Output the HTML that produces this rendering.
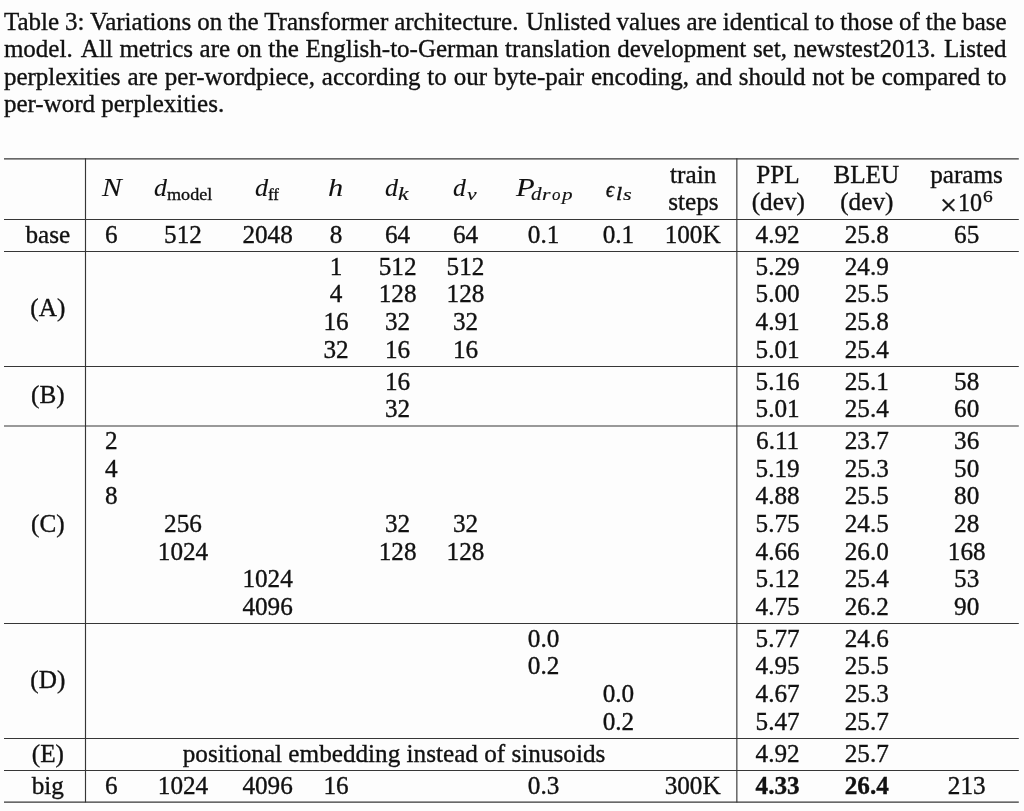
<!DOCTYPE html>
<html><head><meta charset="utf-8"><title>Table 3</title><style>
html,body{margin:0;padding:0;background:#fdfdfd;}
body{width:1024px;height:811px;position:relative;overflow:hidden;font-family:"Liberation Serif",serif;font-size:25.2px;color:#111;-webkit-text-stroke:0.35px #111;}
.cap{font-size:25.0px;}
#pg{position:absolute;left:0;top:0;width:1024px;height:811px;background:#fdfdfd;filter:blur(0.4px);}
.cap{position:absolute;left:3.9px;height:28px;line-height:28px;white-space:nowrap;}
.sp{display:inline-block;width:1.6px;}
.ln{position:absolute;left:0;top:0;}
.ln line{stroke:#363636;stroke-width:1.15;shape-rendering:geometricPrecision;}
.c{position:absolute;transform:translateX(-50%);white-space:nowrap;line-height:28px;height:28px;}
.c.b{font-weight:bold;}
.g{position:absolute;white-space:nowrap;line-height:60px;height:60px;}
</style></head><body><div id=pg>
<div class="cap" style="top:7.90px;word-spacing:-0.315px">Table 3: Variations on the Transformer architecture. <span class="sp"></span>Unlisted values are identical to those of the base</div>
<div class="cap" style="top:35.20px;word-spacing:0.352px">model. <span class="sp"></span>All metrics are on the English-to-German translation development set, newstest2013. <span class="sp"></span>Listed</div>
<div class="cap" style="top:62.60px;word-spacing:0.648px">perplexities are per-wordpiece, according to our byte-pair encoding, and should not be compared to</div>
<div class="cap" style="top:89.90px;word-spacing:0.000px">per-word perplexities.</div>
<svg class="ln" width="1024" height="811" viewBox="0 0 1024 811"><line x1="4.0" x2="1018.8" y1="158.8" y2="158.8"/><line x1="4.0" x2="1018.8" y1="219.5" y2="219.5"/><line x1="4.0" x2="1018.8" y1="251.45" y2="251.45"/><line x1="4.0" x2="1018.8" y1="366.45" y2="366.45"/><line x1="4.0" x2="1018.8" y1="426.0" y2="426.0"/><line x1="4.0" x2="1018.8" y1="623.5" y2="623.5"/><line x1="4.0" x2="1018.8" y1="738.45" y2="738.45"/><line x1="4.0" x2="1018.8" y1="770.45" y2="770.45"/><line x1="4.0" x2="1018.8" y1="802.05" y2="802.05"/><line x1="85.5" x2="85.5" y1="158.23" y2="802.62"/><line x1="736.85" x2="736.85" y1="158.23" y2="802.62"/></svg>
<div class="g" style="left:101.50px;top:158.00px;transform-origin:0 37px;transform:scale(1.186,0.977);font-style:italic;font-size:25px;-webkit-text-stroke:0.08px #111">N</div>
<div class="g" style="left:153.62px;top:158.00px;transform-origin:0 37px;transform:scale(1.036,1.000);font-style:italic;font-size:25px;-webkit-text-stroke:0.08px #111">d</div>
<div class="g" style="left:166.51px;top:163.60px;transform-origin:0 36px;transform:scale(1.035,1.000);font-size:17.5px">model</div>
<div class="g" style="left:255.01px;top:158.00px;transform-origin:0 37px;transform:scale(1.053,1.000);font-style:italic;font-size:25px;-webkit-text-stroke:0.08px #111">d</div>
<div class="g" style="left:268.02px;top:163.60px;transform-origin:0 36px;transform:scale(0.966,1.000);font-size:17.5px">ff</div>
<div class="g" style="left:328.24px;top:158.00px;transform-origin:0 37px;transform:scale(1.214,1.000);font-style:italic;font-size:25px;-webkit-text-stroke:0.08px #111">h</div>
<div class="g" style="left:384.72px;top:158.00px;transform-origin:0 37px;transform:scale(1.044,1.000);font-style:italic;font-size:25px;-webkit-text-stroke:0.08px #111">d</div>
<div class="g" style="left:397.72px;top:163.80px;transform-origin:0 36px;transform:scale(1.351,1.037);font-style:italic;font-size:17.5px;-webkit-text-stroke:0.15px #111">k</div>
<div class="g" style="left:453.03px;top:158.00px;transform-origin:0 37px;transform:scale(1.027,1.000);font-style:italic;font-size:25px;-webkit-text-stroke:0.08px #111">d</div>
<div class="g" style="left:466.55px;top:163.80px;transform-origin:0 36px;transform:scale(1.239,1.000);font-style:italic;font-size:17.5px;-webkit-text-stroke:0.15px #111">v</div>
<div class="g" style="left:515.95px;top:158.00px;transform-origin:0 37px;transform:scale(1.227,0.989);font-style:italic;font-size:25px;-webkit-text-stroke:0.08px #111">P</div>
<div class="g" style="left:531.40px;top:163.80px;transform-origin:0 36px;transform:scale(1.206,1.037);font-style:italic;font-size:17.5px;-webkit-text-stroke:0.15px #111">d</div>
<div class="g" style="left:542.42px;top:163.80px;transform-origin:0 36px;transform:scale(1.248,1.000);font-style:italic;font-size:17.5px;-webkit-text-stroke:0.15px #111">r</div>
<div class="g" style="left:551.92px;top:163.80px;transform-origin:0 36px;transform:scale(0.968,1.000);font-style:italic;font-size:17.5px;-webkit-text-stroke:0.15px #111">o</div>
<div class="g" style="left:562.26px;top:163.80px;transform-origin:0 36px;transform:scale(1.205,1.000);font-style:italic;font-size:17.5px;-webkit-text-stroke:0.15px #111">p</div>
<div class="g" style="left:606.10px;top:159.00px;transform-origin:0 37px;transform:scale(0.791,0.917);font-style:italic;font-size:25px;-webkit-text-stroke:0.55px #111">ϵ</div>
<div class="g" style="left:615.64px;top:163.80px;transform-origin:0 36px;transform:scale(1.257,1.113);font-style:italic;font-size:17.5px">l</div>
<div class="g" style="left:622.84px;top:163.80px;transform-origin:0 36px;transform:scale(1.280,1.000);font-style:italic;font-size:17.5px;-webkit-text-stroke:0.15px #111">s</div>
<div class="c " style="left:693.20px;top:161.00px">train</div>
<div class="c " style="left:693.40px;top:188.00px">steps</div>
<div class="c " style="left:778.00px;top:161.00px">PPL</div>
<div class="c " style="left:778.30px;top:188.00px">(dev)</div>
<div class="c " style="left:866.30px;top:161.00px">BLEU</div>
<div class="c " style="left:866.80px;top:188.00px">(dev)</div>
<div class="c " style="left:966.50px;top:161.00px">params</div>
<div class="g" style="left:940.39px;top:176.80px;transform-origin:0 37px;transform:scale(1.205,1.175);font-size:25px">×</div>
<div class="g" style="left:957.74px;top:172.80px;transform-origin:0 37px;transform:scale(0.959,1.000);font-size:25.2px">10</div>
<div class="g" style="left:983.47px;top:166.30px;transform-origin:0 36px;transform:scale(1.107,0.989);font-size:17.5px">6</div>
<div class="c " style="left:47.85px;top:221.00px">base</div>
<div class="c " style="left:111.30px;top:221.00px">6</div>
<div class="c " style="left:183.00px;top:221.00px">512</div>
<div class="c " style="left:267.60px;top:221.00px">2048</div>
<div class="c " style="left:336.00px;top:221.00px">8</div>
<div class="c " style="left:397.60px;top:221.00px">64</div>
<div class="c " style="left:465.50px;top:221.00px">64</div>
<div class="c " style="left:543.60px;top:221.00px">0.1</div>
<div class="c " style="left:618.45px;top:221.00px">0.1</div>
<div class="c " style="left:692.65px;top:221.00px">100K</div>
<div class="c " style="left:777.65px;top:221.00px">4.92</div>
<div class="c " style="left:866.80px;top:221.00px">25.8</div>
<div class="c " style="left:966.70px;top:221.00px">65</div>
<div class="c " style="left:47.85px;top:294.00px">(A)</div>
<div class="c " style="left:336.00px;top:253.00px">1</div>
<div class="c " style="left:397.60px;top:253.00px">512</div>
<div class="c " style="left:465.50px;top:253.00px">512</div>
<div class="c " style="left:777.65px;top:253.00px">5.29</div>
<div class="c " style="left:866.80px;top:253.00px">24.9</div>
<div class="c " style="left:336.00px;top:280.00px">4</div>
<div class="c " style="left:397.60px;top:280.00px">128</div>
<div class="c " style="left:465.50px;top:280.00px">128</div>
<div class="c " style="left:777.65px;top:280.00px">5.00</div>
<div class="c " style="left:866.80px;top:280.00px">25.5</div>
<div class="c " style="left:336.00px;top:308.00px">16</div>
<div class="c " style="left:397.60px;top:308.00px">32</div>
<div class="c " style="left:465.50px;top:308.00px">32</div>
<div class="c " style="left:777.65px;top:308.00px">4.91</div>
<div class="c " style="left:866.80px;top:308.00px">25.8</div>
<div class="c " style="left:336.00px;top:336.00px">32</div>
<div class="c " style="left:397.60px;top:336.00px">16</div>
<div class="c " style="left:465.50px;top:336.00px">16</div>
<div class="c " style="left:777.65px;top:336.00px">5.01</div>
<div class="c " style="left:866.80px;top:336.00px">25.4</div>
<div class="c " style="left:47.85px;top:381.00px">(B)</div>
<div class="c " style="left:397.60px;top:368.00px">16</div>
<div class="c " style="left:777.65px;top:368.00px">5.16</div>
<div class="c " style="left:866.80px;top:368.00px">25.1</div>
<div class="c " style="left:966.70px;top:368.00px">58</div>
<div class="c " style="left:397.60px;top:395.00px">32</div>
<div class="c " style="left:777.65px;top:395.00px">5.01</div>
<div class="c " style="left:866.80px;top:395.00px">25.4</div>
<div class="c " style="left:966.70px;top:395.00px">60</div>
<div class="c " style="left:47.85px;top:510.00px">(C)</div>
<div class="c " style="left:111.30px;top:427.00px">2</div>
<div class="c " style="left:777.65px;top:427.00px">6.11</div>
<div class="c " style="left:866.80px;top:427.00px">23.7</div>
<div class="c " style="left:966.70px;top:427.00px">36</div>
<div class="c " style="left:111.30px;top:455.00px">4</div>
<div class="c " style="left:777.65px;top:455.00px">5.19</div>
<div class="c " style="left:866.80px;top:455.00px">25.3</div>
<div class="c " style="left:966.70px;top:455.00px">50</div>
<div class="c " style="left:111.30px;top:482.00px">8</div>
<div class="c " style="left:777.65px;top:482.00px">4.88</div>
<div class="c " style="left:866.80px;top:482.00px">25.5</div>
<div class="c " style="left:966.70px;top:482.00px">80</div>
<div class="c " style="left:183.00px;top:510.00px">256</div>
<div class="c " style="left:397.60px;top:510.00px">32</div>
<div class="c " style="left:465.50px;top:510.00px">32</div>
<div class="c " style="left:777.65px;top:510.00px">5.75</div>
<div class="c " style="left:866.80px;top:510.00px">24.5</div>
<div class="c " style="left:966.70px;top:510.00px">28</div>
<div class="c " style="left:183.00px;top:538.00px">1024</div>
<div class="c " style="left:397.60px;top:538.00px">128</div>
<div class="c " style="left:465.50px;top:538.00px">128</div>
<div class="c " style="left:777.65px;top:538.00px">4.66</div>
<div class="c " style="left:866.80px;top:538.00px">26.0</div>
<div class="c " style="left:966.70px;top:538.00px">168</div>
<div class="c " style="left:267.60px;top:565.00px">1024</div>
<div class="c " style="left:777.65px;top:565.00px">5.12</div>
<div class="c " style="left:866.80px;top:565.00px">25.4</div>
<div class="c " style="left:966.70px;top:565.00px">53</div>
<div class="c " style="left:267.60px;top:593.00px">4096</div>
<div class="c " style="left:777.65px;top:593.00px">4.75</div>
<div class="c " style="left:866.80px;top:593.00px">26.2</div>
<div class="c " style="left:966.70px;top:593.00px">90</div>
<div class="c " style="left:47.85px;top:666.00px">(D)</div>
<div class="c " style="left:543.60px;top:625.00px">0.0</div>
<div class="c " style="left:777.65px;top:625.00px">5.77</div>
<div class="c " style="left:866.80px;top:625.00px">24.6</div>
<div class="c " style="left:543.60px;top:652.00px">0.2</div>
<div class="c " style="left:777.65px;top:652.00px">4.95</div>
<div class="c " style="left:866.80px;top:652.00px">25.5</div>
<div class="c " style="left:618.45px;top:680.00px">0.0</div>
<div class="c " style="left:777.65px;top:680.00px">4.67</div>
<div class="c " style="left:866.80px;top:680.00px">25.3</div>
<div class="c " style="left:618.45px;top:708.00px">0.2</div>
<div class="c " style="left:777.65px;top:708.00px">5.47</div>
<div class="c " style="left:866.80px;top:708.00px">25.7</div>
<div class="c " style="left:47.85px;top:740.00px">(E)</div>
<div class="c " style="left:777.65px;top:740.00px">4.92</div>
<div class="c " style="left:866.80px;top:740.00px">25.7</div>
<div class="c " style="left:394.00px;top:740.00px">positional embedding instead of sinusoids</div>
<div class="c " style="left:47.85px;top:772.00px">big</div>
<div class="c " style="left:111.30px;top:772.00px">6</div>
<div class="c " style="left:183.00px;top:772.00px">1024</div>
<div class="c " style="left:267.60px;top:772.00px">4096</div>
<div class="c " style="left:336.00px;top:772.00px">16</div>
<div class="c " style="left:543.60px;top:772.00px">0.3</div>
<div class="c " style="left:692.65px;top:772.00px">300K</div>
<div class="c b" style="left:777.65px;top:772.00px">4.33</div>
<div class="c b" style="left:866.80px;top:772.00px">26.4</div>
<div class="c " style="left:966.70px;top:772.00px">213</div>
</div></body></html>
